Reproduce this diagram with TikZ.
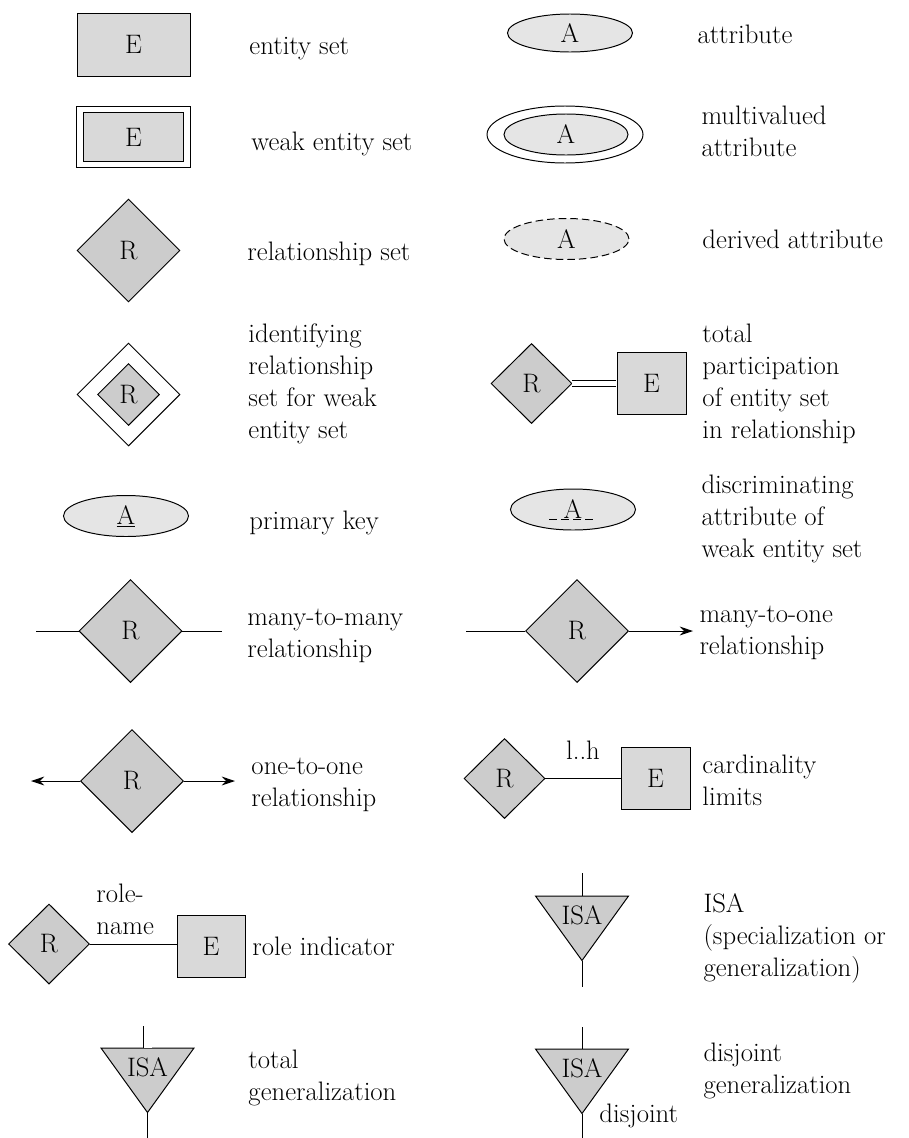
\documentclass[tikz,border=0pt]{standalone}
\usepackage{tikz}
\usetikzlibrary{shapes.geometric, arrows.meta}
\newcommand{\U}{0.025cm}
\definecolor{entgray}{gray}{0.85}
\definecolor{relgray}{gray}{0.80}
\definecolor{attgray}{gray}{0.90}

\begin{document}
\begin{tikzpicture}[x=\U, y=-\U, line width=0.7pt,
    every node/.style={font=\fontsize{19}{22.55}\selectfont, inner sep=0pt},
    entity/.style={draw, fill=entgray, minimum width=113*\U, minimum height=63*\U},
    entsmall/.style={entity, minimum width=69*\U, minimum height=62*\U},
    rel/.style={diamond, draw, fill=relgray, minimum width=103*\U, minimum height=103*\U},
    relsmall/.style={rel, minimum width=81*\U, minimum height=80*\U},
    attr/.style={ellipse, draw, fill=attgray, minimum width=125*\U, minimum height=41*\U},
    isashape/.style={draw, fill=relgray, line join=miter},
    descr/.style={anchor=base west, align=left},
    arrowline/.style={-{Stealth[length=0.33cm, width=0.22cm]}}
  ]
        \useasboundingbox (0,0) rectangle (908,1138);

        % entity sets
        \node[entity] (ent) at (133.5,44.5) {E};
        \node[entity, double, double distance=0.14cm, minimum width=106.5*\U, minimum height=55*\U] (went) at (133.5,137) {E};

        % relationship sets
        \node[rel] (rs) at (128.5,250.5) {R};
        \node[rel, fill=white] (idout) at (128.5,394.5) {};
        \node[rel, minimum width=62*\U, minimum height=62*\U] (idin) at (128.5,394.5) {R};

        % attributes
        \node[attr, minimum height=38*\U] (at) at (570,33) {A};
        \node[attr, fill=white, minimum width=156*\U, minimum height=57*\U] (mvout) at (565,134.5) {};
        \node[attr, minimum width=124*\U] (mvin) at (566,134.5) {A};
        \node[attr, dash pattern=on 0.19cm off 0.1cm] (dv) at (566.5,239) {A};
        \node[attr] (pk) at (126,516) {\underline{A}};
        \node[attr] (da) at (573,509.5) {A};
        \coordinate (dal) at (549,519.5);
        \coordinate (dar) at (597,519.5);
        \draw[dash pattern=on 0.2cm off 0.1cm] (dal) -- (dar);

        % total participation
        \node[relsmall] (tp) at (531.5,383.5) {R};
        \node[entsmall] (te) at (651.5,383.5) {E};
        \draw[double, double distance=0.125cm, shorten >=0.35pt] (tp.east) -- (tp.east -| te.west);

        % many-to-many, many-to-one, one-to-one
        \node[rel] (mm) at (130.5,631) {R};
        \coordinate (mml) at (36,631);
        \coordinate (mmr) at (222,631);
        \draw (mml) -- (mm.west) (mm.east) -- (mmr);

        \node[rel] (mo) at (577,631) {R};
        \coordinate (mol) at (466,631);
        \coordinate (mor) at (693,631);
        \draw (mol) -- (mo.west);
        \draw[arrowline] (mo.east) -- (mor);

        \node[rel] (oo) at (132,781) {R};
        \coordinate (ool) at (31,781);
        \coordinate (oor) at (235,781);
        \draw[arrowline] (oo.west) -- (ool);
        \draw[arrowline] (oo.east) -- (oor);

        % cardinality limits
        \node[relsmall] (cd) at (504.5,778.5) {R};
        \node[entsmall] (ce) at (655.5,778.5) {E};
        \draw (cd.east) -- (cd.east -| ce.west) node[midway, above=0.47cm] (lh) {l..h};

        % role indicator
        \node[relsmall] (rr) at (49,944) {R};
        \node[entsmall, minimum width=68*\U] (re) at (211,946) {E};
        \draw (rr.east) -- (rr.east -| re.west);
        \node[descr] (rn) at (96,934) {role-\\name};

        % isa triangles
        \foreach \nm/\x/\y in {isa/582/896, dj/582/1049, tg/147.5/1048} {
            \coordinate (\nm-top) at (\x,\y);
            \coordinate (\nm-apex) at (\x,\y+64.5);
            \draw[isashape] ([xshift=-46.5*\U]\nm-top) -- ([xshift=46.5*\U]\nm-top) -- (\nm-apex) -- cycle;
            \node[anchor=base] (\nm-txt) at (\x,\y+28.5) {ISA};
        }
        \coordinate (isa-up) at (582,873);
        \coordinate (isa-down) at (582,987);
        \draw (isa-up) -- (isa-top) (isa-apex) -- (isa-down);

        \coordinate (dj-up) at (582,1027);
        \coordinate (dj-down) at (582,1138);
        \draw (dj-up) -- (dj-top) (dj-apex) -- (dj-down);
        \node[descr] (djlbl) at (599,1122) {disjoint};

        \coordinate (tg-up) at (147.5,1026);
        \coordinate (tg-down) at (147.5,1138);
        \draw[double, double distance=0.2cm, shorten >=0.35pt] (tg-up) -- (tg-top);
        \draw (tg-apex) -- (tg-down);

        % descriptions (y is the baseline of the last line)
        \foreach \x/\y/\nm/\descr in {249/54/lent/entity set, 251/150/lwent/weak entity set,
            247/260/lrs/relationship set, 248/438/lid/identifying\\relationship\\set for weak\\entity set,
            249/529/lpk/primary key, 247/657/lmm/many-to-many\\relationship,
            251/806/loo/one-to-one\\relationship, 252/955/lrole/role indicator,
            248/1100/ltg/total\\generalization, 697/43/lat/attribute,
            701/156/lmv/multivalued\\attribute, 702/248/ldv/derived attribute,
            702/438/ltp/total\\participation\\of entity set\\in relationship,
            701/557/lda/discriminating\\attribute of\\weak entity set,
            699/654/lmo/many-to-one\\relationship, 702/805/lcd/cardinality\\limits,
            703/976/lisa/ISA\\(specialization or\\generalization),
            703/1093/ldj/disjoint\\generalization}
        \node[descr] (\nm) at (\x,\y) {\descr};
    \end{tikzpicture}
\end{document}
